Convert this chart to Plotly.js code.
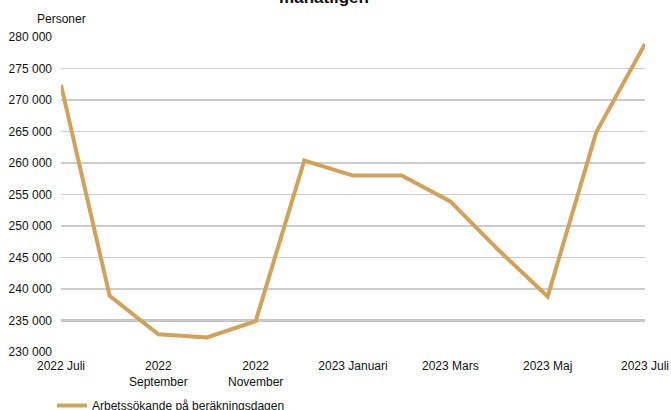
<!DOCTYPE html>
<html><head><meta charset="utf-8">
<script src="https://cdn.plot.ly/plotly-3.0.1.min.js"></script>
<style>html,body{margin:0;padding:0;background:#fff;}#c{width:671px;height:410px;}</style>
</head><body><div id="c"></div>
<script>
const months = ["2022-07","2022-08","2022-09","2022-10","2022-11","2022-12","2023-01","2023-02","2023-03","2023-04","2023-05","2023-06","2023-07"];
const values = [272400, 238900, 232800, 232300, 234900, 260400, 258000, 258000, 253900, 246100, 238800, 264900, 278900];
const tickMonths = ["2022-07","2022-09","2022-11","2023-01","2023-03","2023-05","2023-07"];
const tickLabels = ["2022 Juli","2022<br>September","2022<br>November","2023 Januari","2023 Mars","2023 Maj","2023 Juli"];
const seriesName = "Arbetssökande på beräkningsdagen";
const titleText = "Antal arbetssökande på beräkningsdagen,<br>månatligen";
const yTitle = "Personer";
const refLine = 235000;

const font = "Liberation Sans, Arial, sans-serif";
const trace = {
  x: months, y: values, type: "scatter", mode: "lines", name: seriesName,
  line: {color: "#D1A35A", width: 4}
};
const layout = {
  width: 671, height: 410,
  margin: {l: 61, r: 26, t: 37, b: 58},
  paper_bgcolor: "#fff", plot_bgcolor: "#fff",
  separators: ", ",
  font: {family: font, size: 12, color: "#111"},
  xaxis: {type: "category", range: [0, months.length - 1], tickvals: tickMonths, ticktext: tickLabels,
          showgrid: false, zeroline: false, showline: false, ticks: "", ticklabelstandoff: 5,
          tickfont: {size: 12, color: "#111"}},
  yaxis: {range: [230000, 280000], dtick: 5000, tickformat: ",.0f", showgrid: true, gridcolor: "#cccccc", gridwidth: 1.3,
          zeroline: false, showline: false, ticks: "", ticklabelstandoff: 8, tickfont: {size: 12, color: "#111"}},
  shapes: [{type: "line", xref: "paper", x0: 0, x1: 1, yref: "y", y0: refLine, y1: refLine,
            line: {color: "#c4c4c4", width: 3}, layer: "below"}],
  annotations: [
    {text: yTitle, xref: "paper", yref: "paper", x: 0, y: 1.03, xanchor: "center", yanchor: "bottom",
     showarrow: false, font: {size: 12, color: "#111"}},
    {text: titleText, xref: "paper", yref: "paper", x: 0.45, y: (352 - 9) / 315, xanchor: "center", yanchor: "bottom",
     showarrow: false, font: {size: 17, color: "#111", weight: "bold"}}
  ],
  showlegend: true,
  legend: {orientation: "h", xref: "container", x: 52/671, xanchor: "left", yref: "container", y: 19/410, yanchor: "top",
           font: {size: 12, color: "#111"}}
};
Plotly.newPlot("c", [trace], layout, {displayModeBar: false, staticPlot: true});
</script></body></html>
